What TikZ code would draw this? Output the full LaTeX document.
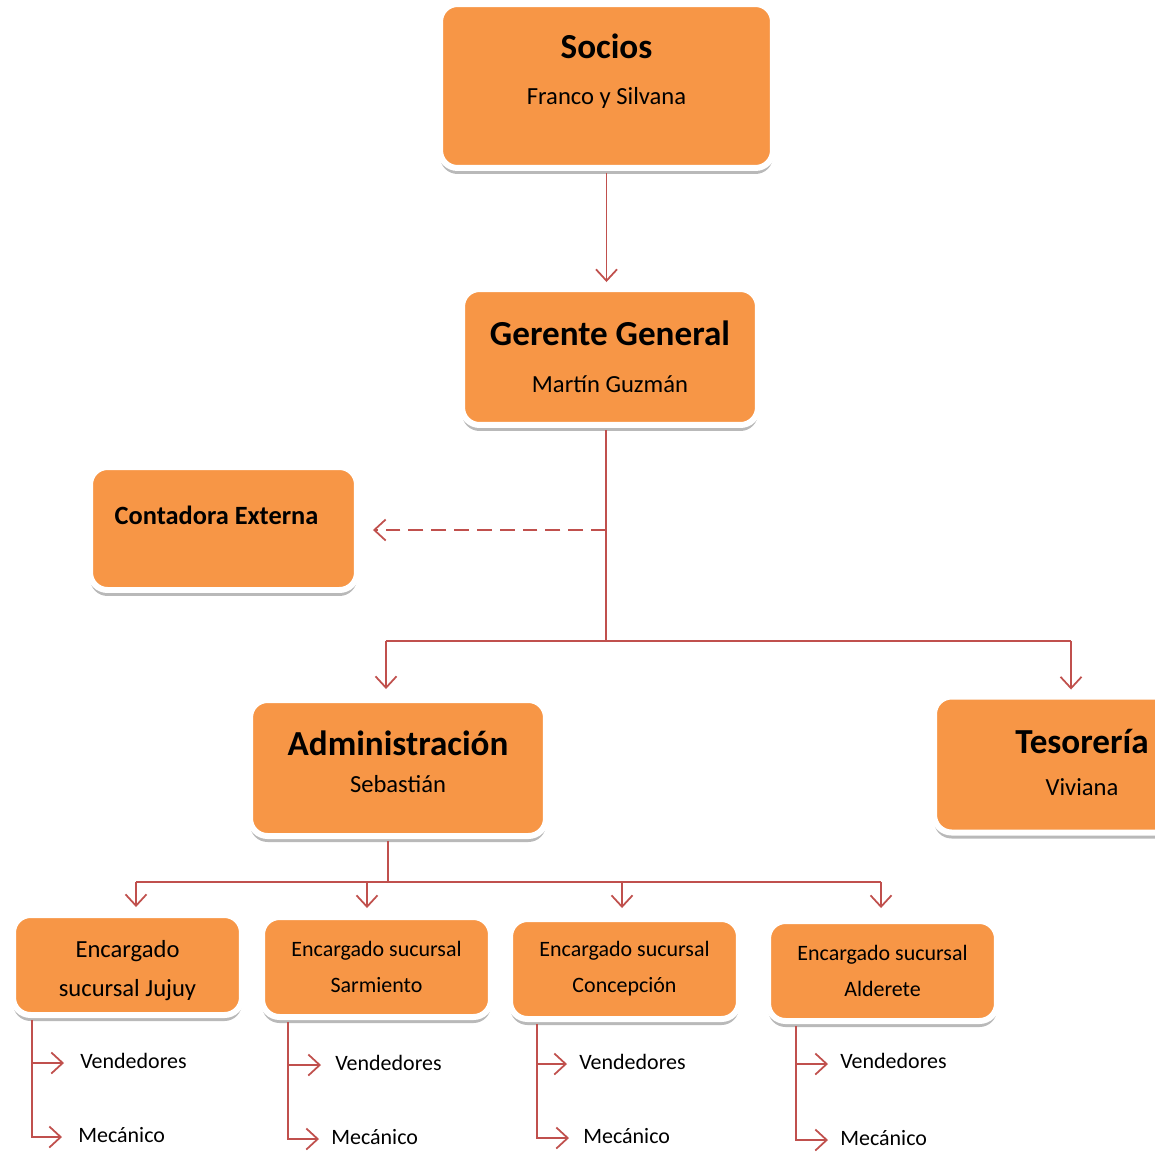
\documentclass[tikz,border=0pt]{standalone}
\usepackage{fontspec}
\setmainfont{Carlito}
\usetikzlibrary{arrows.meta,positioning,calc,shadows}
\definecolor{boxorange}{HTML}{F79646}
\definecolor{linered}{HTML}{C0504D}
\newcommand{\ttl}[1]{{\fontsize{20}{24}\selectfont\bfseries #1}}

\begin{document}
\begin{tikzpicture}[x=0.02cm, y=-0.02cm,
    box/.style={draw=white, line width=0.12cm, fill=boxorange, rounded corners=0.35cm, align=center,
        font=\fontsize{14}{17}\selectfont, inner sep=0pt,
        drop shadow={shadow xshift=0pt, shadow yshift=-0.12cm, fill=black!55, opacity=0.5}},
    bigbox/.style={box, minimum width=5.92cm, minimum height=2.72cm},
    subbox/.style={box, minimum width=4.58cm, minimum height=2cm, font=\fontsize{12.5}{15}\selectfont},
    line/.style={linered, line width=1pt},
    arr/.style={line, -{Straight Barb[length=6.5pt,width=12pt]}},
    leaf/.style={anchor=west, inner sep=0pt, font=\fontsize{12.5}{15}\selectfont}
]
\useasboundingbox (0,0) rectangle (1155,1153);

% boxes
\node[box, minimum width=6.66cm, minimum height=3.28cm] (socios) at (606.5,86)
    {\ttl{Socios}\\[9pt]Franco y Silvana\rule[-0.66cm]{0pt}{0.66cm}};
\node[bigbox] (gerente) at (610,357) {\ttl{Gerente General}\\[10pt]Martín Guzmán};
\node[box, minimum width=5.34cm, minimum height=2.46cm] (contadora) at (223.5,528.5)
    {\fontsize{15}{18}\selectfont\bfseries Contadora Externa\hspace*{0.28cm}\rule[-0.54cm]{0pt}{0.54cm}};
\node[bigbox] (admin) at (398,768) {\ttl{Administración}\\[4.3pt]Sebastián\rule[-0.26cm]{0pt}{0.26cm}};
\node[bigbox] (tesoreria) at (1082,764.5) {\ttl{Tesorería}\\[7pt]Viviana\rule[-0.1cm]{0pt}{0.1cm}};

\node[subbox, font=\fontsize{14}{17}\selectfont] (jujuy) at (127.5,965)
    {\rule{0pt}{0.57cm}Encargado\\[5pt]sucursal Jujuy};
\node[subbox] (sarmiento) at (376.5,967) {Encargado sucursal\\[5.5pt]Sarmiento};
\node[subbox] (concepcion) at (624.5,969) {Encargado sucursal\\[5.5pt]Concepción};
\node[subbox] (alderete) at (882.5,971) {Encargado sucursal\\[5pt]Alderete};

% leaves
\node[leaf] (v1) at (80,1061) {Vendedores};
\node[leaf] (m1) at (78,1135) {Mecánico};
\node[leaf] (v2) at (335,1063) {Vendedores};
\node[leaf] (m2) at (331,1137) {Mecánico};
\node[leaf] (v3) at (579,1062) {Vendedores};
\node[leaf] (m3) at (583,1136) {Mecánico};
\node[leaf] (v4) at (840,1061) {Vendedores};
\node[leaf] (m4) at (840,1138) {Mecánico};

% junctions
\coordinate (jc) at (606,530);
\coordinate (j1) at (606,641);
\coordinate (ja) at (386,641);
\coordinate (jt) at (1071,641);
\coordinate (jb) at (388,882);
\coordinate (b1) at (136,882);
\coordinate (b2) at (367,882);
\coordinate (b3) at (622,882);
\coordinate (b4) at (881,882);
\coordinate (l1) at (32,1020);
\coordinate (l2) at (288,1022);
\coordinate (l3) at (537,1024);
\coordinate (l4) at (796,1026);

% connectors
\draw[arr, shorten <=0.04cm, shorten >=0.08cm] (socios.south) -- (socios.south |- gerente.north);
\draw[line, shorten <=0.04cm] (gerente.south -| j1) -- (j1);
\draw[arr, dash pattern=on 8.5pt off 4.5pt, shorten >=0.26cm] (jc) -- (jc -| contadora.east);
\draw[line] (ja) -- (jt);
\draw[arr, shorten >=0.16cm] (ja) -- (ja |- admin.north);
\draw[arr, shorten >=0.08cm] (jt) -- (jt |- tesoreria.north);

\draw[line, shorten <=0.04cm] (admin.south -| jb) -- (jb);
\draw[line] (b1) -- (b4);
\draw[arr, shorten >=0.1cm] (b1) -- (b1 |- jujuy.north);
\draw[arr, shorten >=0.12cm] (b2) -- (b2 |- sarmiento.north);
\draw[arr, shorten >=0.16cm] (b3) -- (b3 |- concepcion.north);
\draw[arr, shorten >=0.2cm] (b4) -- (b4 |- alderete.north);

\draw[arr, shorten >=0.32cm] (l1) |- (v1.west |- 0,1063);
\draw[arr, shorten >=0.32cm] (l1) |- (m1.west |- 0,1137);
\draw[arr, shorten >=0.28cm] (l2) |- (v2.west |- 0,1065);
\draw[arr, shorten >=0.24cm] (l2) |- (m2.west |- 0,1139);
\draw[arr, shorten >=0.24cm] (l3) |- (v3.west |- 0,1064);
\draw[arr, shorten >=0.28cm] (l3) |- (m3.west |- 0,1138);
\draw[arr, shorten >=0.24cm] (l4) |- (v4.west |- 0,1064);
\draw[arr, shorten >=0.24cm] (l4) |- (m4.west |- 0,1140);
\end{tikzpicture}
\end{document}
